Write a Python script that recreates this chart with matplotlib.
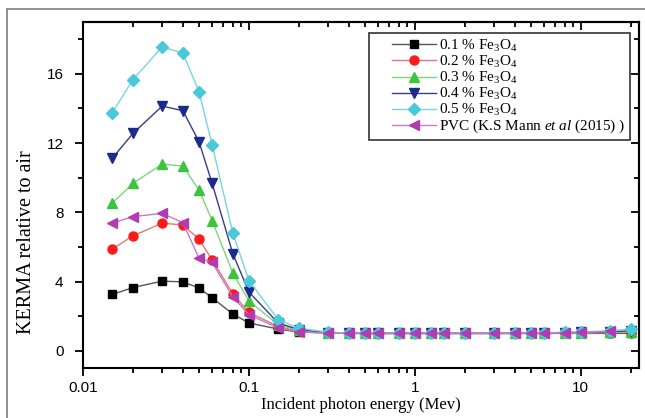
import matplotlib
matplotlib.use("Agg")
import matplotlib.pyplot as plt
from matplotlib.lines import Line2D
from matplotlib.legend_handler import HandlerLine2D
from matplotlib.ticker import LogLocator, FixedLocator, NullFormatter, FuncFormatter

plt.rcParams['mathtext.fontset'] = 'custom'
plt.rcParams['mathtext.rm'] = 'Liberation Serif'
plt.rcParams['mathtext.it'] = 'Liberation Serif:italic'

# photon energies (MeV)
energy = [0.015, 0.02, 0.03, 0.04, 0.05, 0.06, 0.08, 0.1, 0.15, 0.2, 0.3, 0.4, 0.5,
          0.6, 0.8, 1, 1.25, 1.5, 2, 3, 4, 5, 6, 8, 10, 15, 20]

# KERMA relative to air
kerma_01 = [3.25, 3.65, 4.02, 3.98, 3.62, 3.06, 2.12, 1.60, 1.25, 1.08, 1.02, 1.0, 1.0,
            1.0, 1.0, 1.0, 1.0, 1.0, 1.0, 1.0, 1.0, 1.0, 1.0, 1.0, 1.0, 1.0, 1.0]
kerma_02 = [5.87, 6.64, 7.37, 7.27, 6.45, 5.25, 3.29, 2.21, 1.40, 1.12, 1.03, 1.01, 1.0,
            1.0, 1.0, 1.0, 1.0, 1.0, 1.0, 1.0, 1.0, 1.0, 1.01, 1.02, 1.03, 1.05, 1.05]
kerma_03 = [8.52, 9.67, 10.79, 10.67, 9.29, 7.52, 4.48, 2.88, 1.50, 1.18, 1.04, 1.01, 1.0,
            1.0, 1.0, 1.0, 1.0, 1.0, 1.0, 1.0, 1.0, 1.01, 1.02, 1.03, 1.04, 1.07, 1.10]
kerma_04 = [11.12, 12.56, 14.14, 13.87, 12.08, 9.67, 5.60, 3.39, 1.60, 1.22, 1.05, 1.02, 1.0,
            1.0, 1.0, 1.0, 1.0, 1.0, 1.0, 1.0, 1.01, 1.02, 1.03, 1.04, 1.06, 1.10, 1.15]
kerma_05 = [13.75, 15.67, 17.56, 17.21, 14.96, 11.90, 6.79, 4.04, 1.80, 1.30, 1.07, 1.02, 1.0,
            1.0, 1.0, 1.0, 1.0, 1.0, 1.0, 1.0, 1.01, 1.02, 1.04, 1.06, 1.08, 1.15, 1.25]
energy_pvc = energy[:-1]
kerma_pvc = [7.37, 7.75, 7.94, 7.40, 5.35, 5.10, 3.10, 2.08, 1.31, 1.10, 1.02, 1.0, 1.0,
             1.0, 1.0, 1.0, 1.0, 1.0, 1.0, 1.0, 1.0, 1.01, 1.02, 1.04, 1.06, 1.12]

labels = [r'0.1 % Fe$_3$O$_4$', r'0.2 % Fe$_3$O$_4$', r'0.3 % Fe$_3$O$_4$',
          r'0.4 % Fe$_3$O$_4$', r'0.5 % Fe$_3$O$_4$',
          r'PVC (K.S Mann $\mathit{et\ al}$ (2015) )']

fig = plt.figure(figsize=(6.45, 4.18), dpi=100)
# grey page frame (left and top edges)
fig.add_artist(Line2D([7 / 645, 7 / 645], [0, 1 - 9 / 418], transform=fig.transFigure,
                      color='#888888', linewidth=1.3))
fig.add_artist(Line2D([7 / 645, 1], [1 - 9 / 418, 1 - 9 / 418], transform=fig.transFigure,
                      color='#888888', linewidth=1.3))
ax = fig.add_axes([83 / 645, 50 / 418, 556 / 645, 346 / 418])

series = [
    (energy, kerma_01, 's', '#000000', '#555555', 6),
    (energy, kerma_02, 'o', '#ff1a1a', '#e07878', 6.5),
    (energy, kerma_03, '^', '#3cc43c', '#78d878', 7.5),
    (energy, kerma_04, 'v', '#1c2a8c', '#3a3a8a', 7.5),
    (energy, kerma_05, 'D', '#48c8d8', '#78d4e4', 6.5),
    (energy_pvc, kerma_pvc, '<', '#b03cb0', '#c878c8', 7.5),
]
for (x, y, m, mc, lc, ms), lab in zip(series, labels):
    ax.plot(x, y, color=lc, linewidth=1.0, marker=m, markersize=ms,
            markerfacecolor=mc, markeredgecolor=mc, label=lab)

ax.set_xscale('log')
ax.set_xlim(0.01, 22.4)
ax.set_ylim(-1, 19)

ax.yaxis.set_major_locator(FixedLocator([0, 4, 8, 12, 16]))
ax.yaxis.set_minor_locator(FixedLocator([2, 6, 10, 14, 18]))
ax.xaxis.set_major_locator(LogLocator(base=10))
ax.xaxis.set_minor_locator(LogLocator(base=10, subs=range(2, 10)))
ax.xaxis.set_minor_formatter(NullFormatter())
ax.xaxis.set_major_formatter(FuncFormatter(lambda v, p: '%g' % v))

ax.tick_params(which='both', direction='out', width=1.3, top=False, right=False,
               labelsize=11)
ax.tick_params(which='major', length=6)
ax.tick_params(which='minor', length=3.5)
ax.tick_params(axis='y', which='both', pad=8)
for lab in ax.get_xticklabels() + ax.get_yticklabels():
    lab.set_family('Liberation Sans')
for s in ax.spines.values():
    s.set_linewidth(1.5)

# inward ticks on the top and right sides
top = ax.secondary_xaxis('top')
top.xaxis.set_major_locator(LogLocator(base=10))
top.xaxis.set_minor_locator(LogLocator(base=10, subs=range(2, 10)))
top.tick_params(which='both', direction='in', width=1.3, labeltop=False)
top.tick_params(which='major', length=6)
top.tick_params(which='minor', length=3.5)
top.spines['top'].set_linewidth(1.5)
right = ax.secondary_yaxis('right')
right.yaxis.set_major_locator(FixedLocator([0, 4, 8, 12, 16]))
right.yaxis.set_minor_locator(FixedLocator([2, 6, 10, 14, 18]))
right.tick_params(which='both', direction='in', width=1.3, labelright=False)
right.tick_params(which='major', length=6)
right.tick_params(which='minor', length=3.5)
right.spines['right'].set_linewidth(1.5)

ax.set_xlabel('Incident photon energy (Mev)', family='Liberation Serif', fontsize=12,
              labelpad=1)
ax.set_ylabel('KERMA relative to air', family='Liberation Serif', fontsize=14.5)
ax.yaxis.set_label_coords(-0.084, 0.364)

leg = ax.legend(loc='upper right', bbox_to_anchor=(0.984, 0.968), borderaxespad=0,
                frameon=True, fancybox=False, edgecolor='black',
                prop={'family': 'Liberation Serif', 'size': 11},
                handlelength=4.1, labelspacing=0.0, borderpad=0.3, handletextpad=0.2,
                handler_map={Line2D: HandlerLine2D(xpad=1.2)})
leg.get_frame().set_linewidth(1.2)

fig.savefig('out.png', dpi=100)
